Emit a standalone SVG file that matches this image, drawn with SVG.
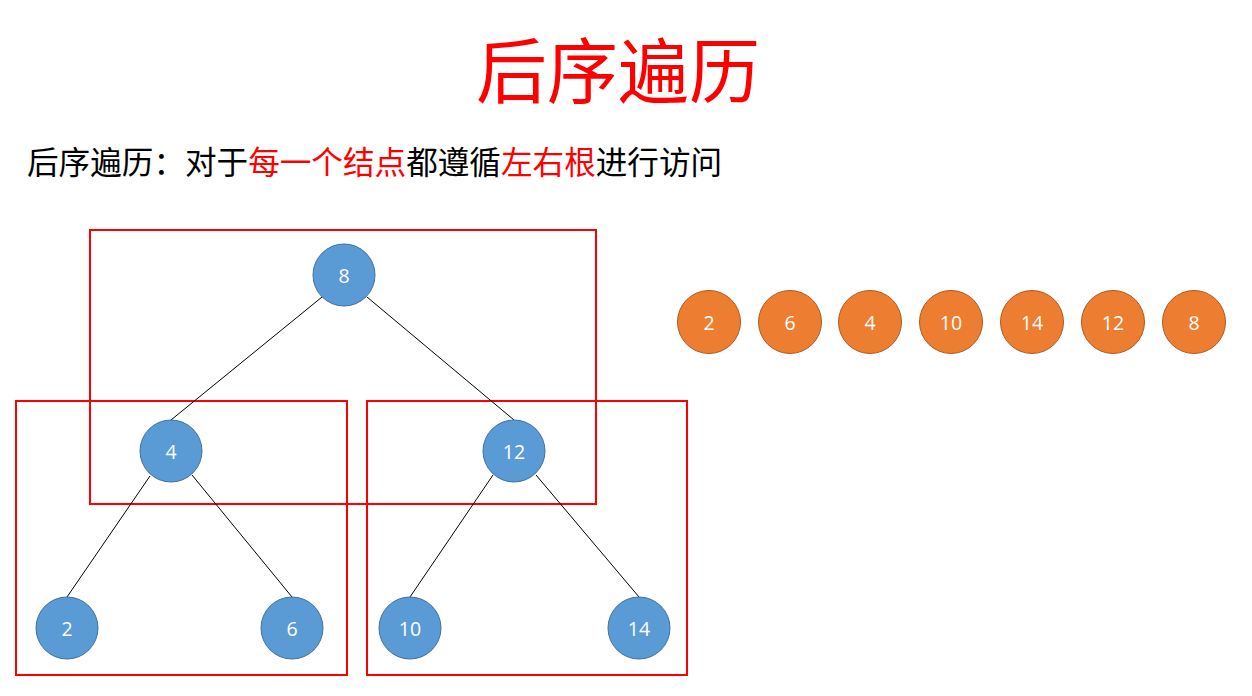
<svg xmlns="http://www.w3.org/2000/svg" width="1252" height="696" viewBox="0 0 1252 696">
<style>
.box{fill:none;stroke:#FF0000;stroke-width:2}
.edge{stroke:#000;stroke-width:1}
.bn{fill:#5B9BD5;stroke:#41719C;stroke-width:1}
.on{fill:#ED7D31;stroke:#AE5A21;stroke-width:1}
.lbl{fill:#fff;font-family:"Open Sans","Liberation Sans",sans-serif;font-size:19.5px;text-anchor:middle;dominant-baseline:central}
.cjk{font-family:"Noto Sans CJK SC",sans-serif}
</style>
<rect width="1252" height="696" fill="#fff"/>
<text x="618" y="97" class="cjk" font-size="71" fill="#FF0000" text-anchor="middle">后序遍历</text>
<text x="27" y="174" class="cjk" font-size="31.6" fill="#000">后序遍历：对于<tspan fill="#FF0000">每一个结点</tspan>都遵循<tspan fill="#FF0000">左右根</tspan>进行访问</text>
<g id="boxes">
<rect class="box" x="90" y="230" width="506" height="274"/>
<rect class="box" x="16" y="401" width="331" height="274"/>
<rect class="box" x="367" y="401" width="320" height="274"/>
</g>
<g id="connectors">
<line class="edge" x1="322" y1="297" x2="171" y2="420"/>
<line class="edge" x1="367" y1="297" x2="514" y2="420"/>
<line class="edge" x1="150" y1="476" x2="67" y2="597"/>
<line class="edge" x1="192" y1="475" x2="292" y2="597"/>
<line class="edge" x1="493" y1="475" x2="410" y2="597"/>
<line class="edge" x1="536" y1="475" x2="639" y2="597"/>
</g>
<g id="n8"><circle class="bn" cx="344" cy="275" r="31"/><text class="lbl" x="344" y="275">8</text></g>
<g id="n4"><circle class="bn" cx="171" cy="451" r="31"/><text class="lbl" x="171" y="451">4</text></g>
<g id="n12"><circle class="bn" cx="514" cy="451" r="31"/><text class="lbl" x="514" y="451">12</text></g>
<g id="n2"><circle class="bn" cx="67" cy="628" r="31"/><text class="lbl" x="67" y="628">2</text></g>
<g id="n6"><circle class="bn" cx="292" cy="628" r="31"/><text class="lbl" x="292" y="628">6</text></g>
<g id="n10"><circle class="bn" cx="410" cy="628" r="31"/><text class="lbl" x="410" y="628">10</text></g>
<g id="n14"><circle class="bn" cx="639" cy="628" r="31"/><text class="lbl" x="639" y="628">14</text></g>
<g id="o2"><circle class="on" cx="709" cy="322" r="31.5"/><text class="lbl" x="709" y="322">2</text></g>
<g id="o6"><circle class="on" cx="790" cy="322" r="31.5"/><text class="lbl" x="790" y="322">6</text></g>
<g id="o4"><circle class="on" cx="870" cy="322" r="31.5"/><text class="lbl" x="870" y="322">4</text></g>
<g id="o10"><circle class="on" cx="951" cy="322" r="31.5"/><text class="lbl" x="951" y="322">10</text></g>
<g id="o14"><circle class="on" cx="1032" cy="322" r="31.5"/><text class="lbl" x="1032" y="322">14</text></g>
<g id="o12"><circle class="on" cx="1113" cy="322" r="31.5"/><text class="lbl" x="1113" y="322">12</text></g>
<g id="o8"><circle class="on" cx="1194" cy="322" r="31.5"/><text class="lbl" x="1194" y="322">8</text></g>
</svg>
